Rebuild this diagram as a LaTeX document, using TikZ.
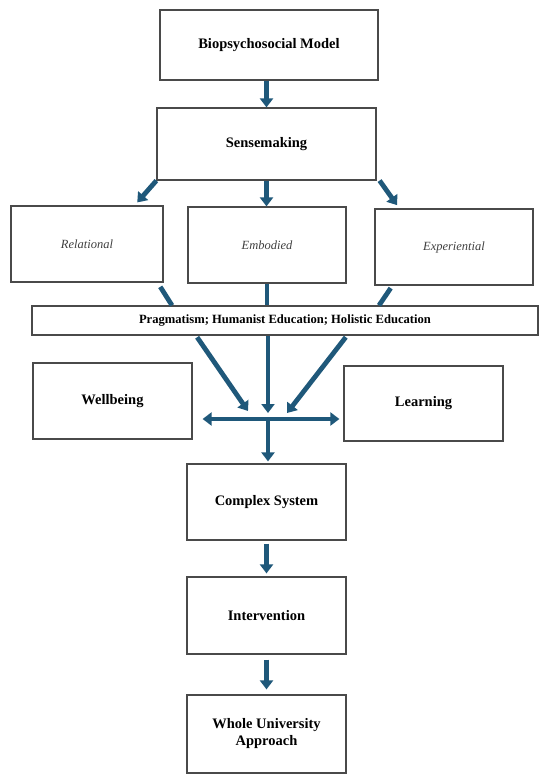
\documentclass[tikz,border=0pt]{standalone}
\usepackage{fontspec}
\setmainfont{Liberation Serif}
\usepackage{tikz}
\usetikzlibrary{arrows.meta}
\definecolor{arrowblue}{HTML}{1F587A}
\definecolor{boxgrey}{HTML}{4A4A4A}

\begin{document}
\begin{tikzpicture}[x=1pt,y=-1pt]
		\useasboundingbox (0,0) rectangle (550,784);
		\begin{scope}[every node/.style={rectangle,draw=boxgrey,line width=1.2pt,align=center,
				minimum width=159pt, minimum height=76pt, inner sep=2pt,
				font=\fontsize{14.5}{17}\selectfont\bfseries}]
			\node (BM) at (269,45) [minimum width=218pt, minimum height=70pt] {Biopsychosocial Model};
			\node (SM) at (266.5,144) [minimum width=219pt, minimum height=72pt] {Sensemaking};
			\node (RE) at (87,244) [minimum width=152pt, font=\fontsize{12.5}{15}\selectfont\itshape, text=black!75] {Relational};
			\node (EM) at (267,245) [minimum width=158pt, font=\fontsize{12.5}{15}\selectfont\itshape, text=black!75] {Embodied};
			\node (EX) at (454,247) [minimum width=158pt, font=\fontsize{12.5}{15}\selectfont\itshape, text=black!75] {Experiential};
			\node (PH) at (285,320.5) [minimum width=506pt, minimum height=29pt, font=\fontsize{12.6}{15}\selectfont\bfseries] {Pragmatism; Humanist Education; Holistic Education};
			\node (WB) at (112.5,401) {Wellbeing};
			\node (LE) at (423.5,403.5) [minimum height=75pt] {Learning};
			\node (CS) at (266.5,502) {Complex System};
			\node (IN) at (266.5,615.5) [minimum height=77pt] {Intervention};
			\node (WU) at (266.5,734) [minimum height=78pt] {Whole University\\Approach};
		\end{scope}
		
		\coordinate (JN) at (268,419);
		
		\tikzstyle{arrow} = [line width=4.8pt,-{Triangle[width=13pt,length=9pt]},color=arrowblue]
		\tikzstyle{feed} = [line width=4.8pt,color=arrowblue]
		
		\draw [arrow] (BM.south -| SM.north) -- (SM.north);
		\draw [arrow,shorten >=4pt] (SM.south west) -- ([xshift=-29pt]RE.north east);
		\draw [arrow] (SM.south) -- (SM.south |- EM.north);
		\draw [arrow,shorten >=4pt] ([xshift=3pt]SM.south east) -- ([xshift=25pt]EX.north west);
		
		\draw [feed,shorten <=5pt] ([xshift=-6pt]RE.south east) -- ([xshift=-113pt]PH.north);
		\draw [feed] (EM.south) -- (EM.south |- PH.north);
		\draw [feed,shorten <=3pt] ([xshift=18pt]EX.south west) -- ([xshift=94pt]PH.north);
		
		\draw [arrow,shorten <=2pt] ([xshift=-89pt]PH.south) -- ([shift={(-20pt,8pt)}]JN);
		\draw [arrow] (PH.south -| JN) -- ([yshift=6pt]JN);
		\draw [arrow,shorten <=2pt] ([xshift=62pt]PH.south) -- ([shift={(19pt,6pt)}]JN);
		
		\draw [arrow,{Triangle[width=13pt,length=9pt]}-{Triangle[width=13pt,length=9pt]},shorten <=10pt,shorten >=4pt] (WB.east |- JN) -- (LE.west |- JN);
		\draw [arrow,shorten >=2pt] (JN) -- (JN |- CS.north);
		
		\draw [arrow,shorten <=3pt,shorten >=3pt] (CS.south) -- (IN.north);
		\draw [arrow,shorten <=5pt,shorten >=5pt] (IN.south) -- (WU.north);
		
	\end{tikzpicture}
\end{document}
